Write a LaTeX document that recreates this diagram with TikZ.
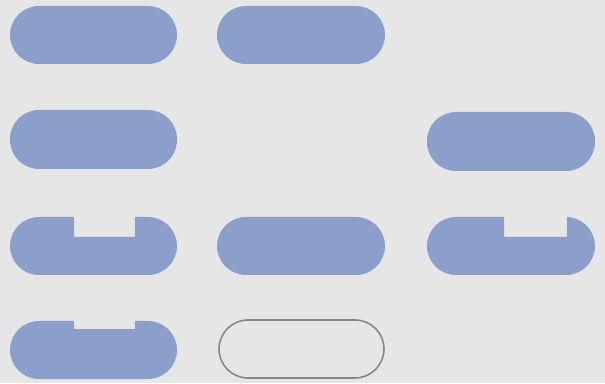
\documentclass[tikz,border=0pt]{standalone}
\definecolor{bgc}{RGB}{230,230,230}
\definecolor{pillc}{RGB}{140,159,202}
\definecolor{outc}{RGB}{135,135,140}
\tikzset{pill/.style={fill=pillc},
 outpill/.style={draw=outc,line width=1.6pt}}
\begin{document}
\begin{tikzpicture}[x=1pt,y=1pt]
\fill[bgc] (0,0) rectangle (605,383);
\useasboundingbox (0,0) rectangle (605,383);
% row 1
\fill[pill,rounded corners=29pt] (10,319) rectangle (177,377);
\fill[pill,rounded corners=29pt] (217,319) rectangle (385,377);
% row 2
\fill[pill,rounded corners=29pt] (10,214) rectangle (177,273);
\fill[pill,rounded corners=29pt] (427,212) rectangle (595,271);
% row 3
\fill[pill] (39,108) arc[start angle=270,end angle=90,radius=29] -- (74,166) -- (74,146) -- (135,146) -- (135,166) -- (148,166) arc[start angle=90,end angle=-90,radius=29] -- cycle;
\fill[pill,rounded corners=29pt] (217,108) rectangle (385,166);
\fill[pill] (456,108) arc[start angle=270,end angle=90,radius=29] -- (504,166) -- (504,146) -- (567,146) -- (567,166) -- (566,166) arc[start angle=90,end angle=-90,radius=29] -- cycle;
% row 4
\fill[pill] (39,4) arc[start angle=270,end angle=90,radius=29] -- (74,62) -- (74,54) -- (135,54) -- (135,62) -- (148,62) arc[start angle=90,end angle=-90,radius=29] -- cycle;
\draw[outpill,rounded corners=29pt] (219,5) rectangle (384,63);
\end{tikzpicture}
\end{document}
